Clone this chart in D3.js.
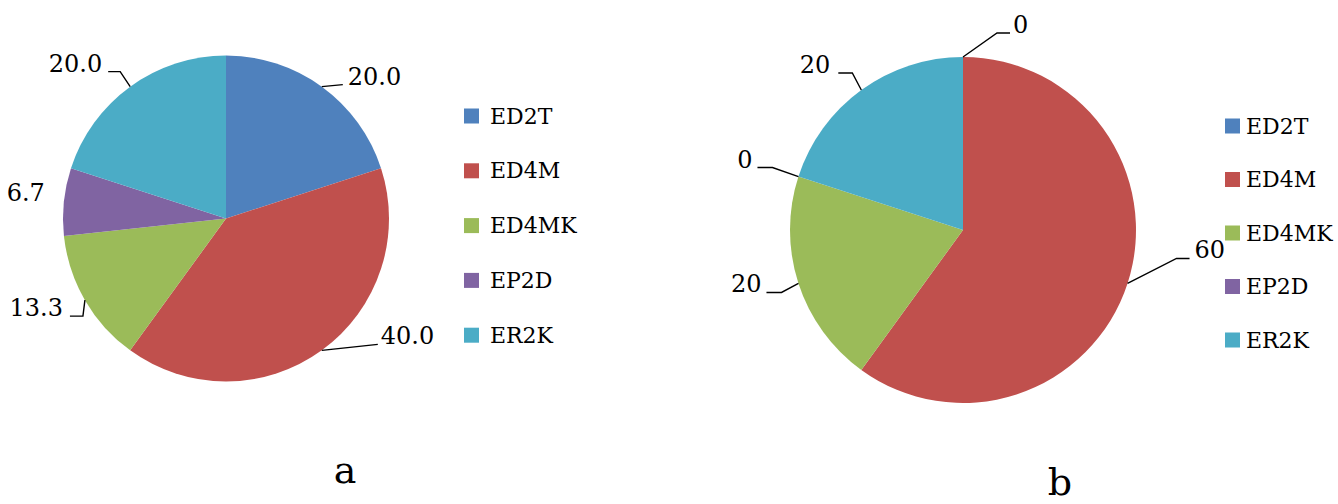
<!DOCTYPE html>
<html>
<head>
<meta charset="utf-8">
<script src="https://cdn.jsdelivr.net/npm/d3@7"></script>
<style>
  body { margin: 0; background: #fff; }
</style>
</head>
<body>
<div id="chart"></div>
<script>
const categories = ["ED2T", "ED4M", "ED4MK", "EP2D", "ER2K"];
const valuesA = [20.0, 40.0, 13.3, 6.7, 20.0];
const valuesB = [0, 60, 20, 0, 20];
const labelsA = ["20.0", "40.0", "13.3", "6.7", "20.0"];
const labelsB = ["0", "60", "20", "0", "20"];
const colors = ["#4F81BD", "#C0504D", "#9BBB59", "#8064A2", "#4BACC6"];

const serif = "'DejaVu Serif', 'Liberation Serif', serif";

// leader layout per slice: elbow offset from the slice edge, tail length, text gap
const leadersA = [
  { dx: 21, dy: -2, tail: 0, gap: 5 },
  { dx: 56, dy: -6, tail: 0, gap: 3 },
  { dx: -2, dy: 16, tail: -13, gap: 7 },
  { dx: -19, dy: -1, tail: 0, gap: 0, noLine: true },
  { dx: -10, dy: -15, tail: -12, gap: 6 }
];
const leadersB = [
  { dx: 34, dy: -24, tail: 13, gap: 3 },
  { dx: 49, dy: -25, tail: 13, gap: 5 },
  { dx: -17, dy: 9, tail: -15, gap: 5 },
  { dx: -26, dy: -9, tail: -15, gap: 5 },
  { dx: -9, dy: -17, tail: -14, gap: 8 }
];

const svg = d3.select("#chart").append("svg")
    .attr("width", 1338)
    .attr("height", 504)
    .style("font-family", serif);

function drawPie(cfg) {
  const pie = d3.pie().sort(null).value((d) => d.value);
  const arcs = pie(categories.map((c, i) => ({ name: c, value: cfg.values[i], label: cfg.labels[i], lay: cfg.leaders[i] })));
  const arc = d3.arc().innerRadius(0).outerRadius(cfg.r);

  const g = svg.append("g").attr("transform", `translate(${cfg.cx},${cfg.cy})`);

  g.selectAll("path.slice")
    .data(arcs.filter((d) => d.value > 0))
    .enter().append("path")
    .attr("class", "slice")
    .attr("d", arc)
    .attr("fill", (d) => colors[categories.indexOf(d.data.name)]);

  arcs.forEach((d) => {
    const lay = d.data.lay;
    // zero slices anchor at their start angle, others at mid angle
    const a = d.value > 0 ? (d.startAngle + d.endAngle) / 2 : d.startAngle;
    const ex = cfg.r * Math.sin(a);
    const ey = -cfg.r * Math.cos(a);
    const bx = ex + lay.dx, by = ey + lay.dy;
    const tx = bx + lay.tail;
    const right = lay.tail > 0 || (lay.tail === 0 && lay.dx > 0);

    if (!lay.noLine) {
      g.append("path")
        .attr("d", d3.line()([[ex, ey], [bx, by], [tx, by]]))
        .attr("fill", "none")
        .attr("stroke", "#000")
        .attr("stroke-width", 1.4);
    }

    g.append("text")
      .attr("x", right ? tx + lay.gap : tx - lay.gap)
      .attr("y", by)
      .attr("text-anchor", right ? "start" : "end")
      .style("font-size", "24px")
      .text(d.data.label);
  });

  const leg = svg.append("g")
    .attr("transform", `translate(${cfg.legX},${cfg.legY})`);

  const rows = leg.selectAll("g.row")
    .data(categories)
    .enter().append("g")
    .attr("class", "row")
    .attr("transform", (d, i) => `translate(0,${i * cfg.legStep})`);

  rows.append("rect")
    .attr("x", 0).attr("y", -7.5)
    .attr("width", 15).attr("height", 15)
    .attr("fill", (d, i) => colors[i]);

  rows.append("text")
    .attr("x", cfg.legGap)
    .attr("y", 7.5)
    .style("font-size", cfg.legFont + "px")
    .text((d) => d);

  svg.append("text")
    .attr("x", cfg.capX)
    .attr("y", cfg.capY)
    .attr("text-anchor", "middle")
    .style("font-size", "38px")
    .text(cfg.caption);
}

drawPie({
  values: valuesA, labels: labelsA, leaders: leadersA,
  cx: 226, cy: 218.5, r: 163,
  legX: 464, legY: 116, legStep: 54.8, legGap: 26, legFont: 22,
  caption: "a", capX: 345, capY: 483
});

drawPie({
  values: valuesB, labels: labelsB, leaders: leadersB,
  cx: 963, cy: 230, r: 173,
  legX: 1225, legY: 126, legStep: 53.5, legGap: 21, legFont: 22,
  caption: "b", capX: 1060, capY: 495
});
</script>
</body>
</html>
